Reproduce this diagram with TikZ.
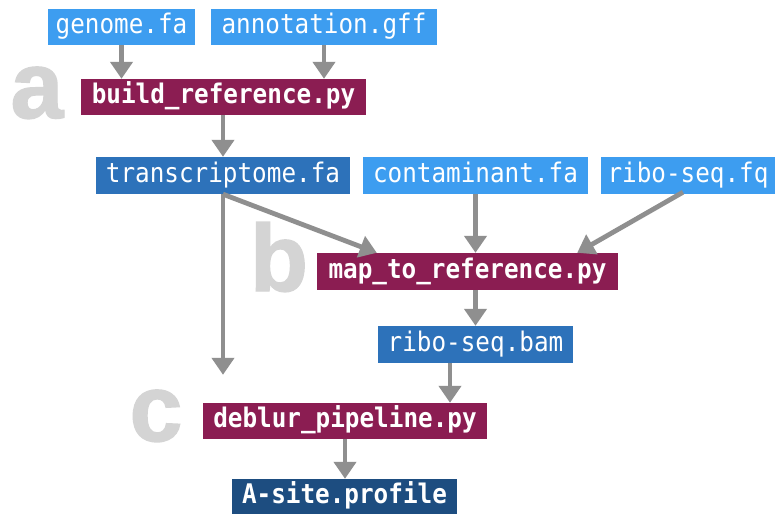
\documentclass[tikz,border=0pt]{standalone}
\usepackage{fontspec}
\newfontfamily\boxfont[FakeStretch=0.9]{DejaVu Sans Mono}
\newfontfamily\letterfont[FakeBold=1.5]{Liberation Sans}
\usetikzlibrary{arrows.meta}
\definecolor{lblue}{HTML}{3D9DF0}
\definecolor{mblue}{HTML}{2D72BA}
\definecolor{dblue}{HTML}{1D4D80}
\definecolor{maroon}{HTML}{8B1D52}
\definecolor{arrowgray}{HTML}{8F8F8F}
\definecolor{lettergray}{HTML}{D4D4D4}
\tikzset{
  box/.style={inner sep=0pt, minimum height=36pt, text=white,
    font=\boxfont\fontsize{27}{30}\selectfont, text height=19pt, text depth=6pt},
  filebox/.style={box, fill=lblue},
  midbox/.style={box, fill=mblue},
  outbox/.style={box, fill=dblue, font=\boxfont\bfseries\fontsize{27}{30}\selectfont},
  scriptbox/.style={box, fill=maroon, font=\boxfont\bfseries\fontsize{27}{30}\selectfont},
  arr/.style={draw=arrowgray, line width=4.8pt, -{Triangle[width=22pt,length=17pt]}},
  panel/.style={text=lettergray, inner sep=0pt, anchor=base,
    font=\letterfont\bfseries\fontsize{95}{100}\selectfont}
}
\begin{document}
\begin{tikzpicture}[x=1pt, y=-1pt]
\useasboundingbox (0,0) rectangle (780,514);
\fill[white] (0,0) rectangle (780,514);
% panel letters
\node[panel] (la) at (37,118) {a};
\node[panel] (lb) at (279,291) {b};
\node[panel] (lc) at (156,441) {c};
% boxes
\node[filebox, minimum width=147pt] (gn) at (121.5,27) {genome.fa};
\node[filebox, minimum width=226pt] (an) at (324,27) {annotation.gff};
\node[scriptbox, minimum width=285pt] (br) at (223.5,97) {build\_reference.py};
\node[midbox, minimum width=254pt, minimum height=37pt] (tr) at (223,175.5) {transcriptome.fa};
\node[filebox, minimum width=225pt, minimum height=37pt] (ct) at (475.5,175.5) {contaminant.fa};
\node[filebox, minimum width=174pt, minimum height=37pt] (rf) at (688,175.5) {ribo-seq.fq};
\node[scriptbox, minimum width=301pt, minimum height=37pt] (mp) at (467.5,271.5) {map\_to\_reference.py};
\node[midbox, minimum width=195pt, minimum height=37pt] (bm) at (475.5,344.5) {ribo-seq.bam};
\node[scriptbox, minimum width=284pt] (db) at (345,421) {deblur\_pipeline.py};
\node[outbox, minimum width=225pt] (as) at (344.5,497) {A-site.profile};
% connectors
\draw[arr] (gn.south) -- (gn.south |- br.north);
\draw[arr] (an.south) -- (an.south |- br.north);
\draw[arr] (tr.north |- br.south) -- (tr.north);
\draw[arr] (tr.south) -- ([xshift=60pt]mp.north west);
\draw[arr, shorten >=28pt] (tr.south) -- (tr.south |- db.north);
\draw[arr] (ct.south) -- (ct.south |- mp.north);
\draw[arr] ([xshift=-5pt,yshift=2pt]rf.south) -- ([xshift=-41pt]mp.north east);
\draw[arr] (bm.north |- mp.south) -- (bm.north);
\draw[arr] ([xshift=-25.5pt]bm.south) -- ([xshift=-25.5pt]bm.south |- db.north);
\draw[arr] (db.south) -- (db.south |- as.north);
\end{tikzpicture}
\end{document}
